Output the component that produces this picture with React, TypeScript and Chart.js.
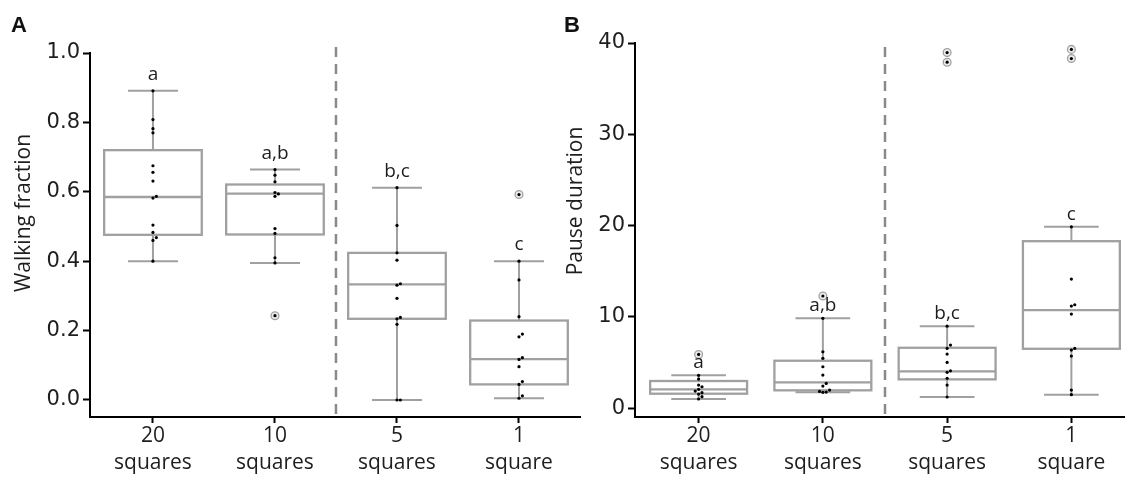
import React, { useEffect, useRef } from "react";
import { Chart, registerables } from "chart.js";

Chart.register(...registerables);

// ---------- shared categories ----------
const categories = ["20 squares", "10 squares", "5 squares", "1 square"];
const tickNumbers = ["20", "10", "5", "1"];
const tickUnits = ["squares", "squares", "squares", "square"];
const groupLetters = ["a", "a,b", "b,c", "c"];
const dividerAfterIndex = 1;

// ---------- Panel A: Walking fraction ----------
const walkTicks = [0, 0.2, 0.4, 0.6, 0.8, 1.0];
const walkWhiskerLow = [0.4, 0.395, 0.0, 0.005];
const walkQ1 = [0.476, 0.477, 0.234, 0.045];
const walkMedian = [0.585, 0.595, 0.333, 0.118];
const walkQ3 = [0.72, 0.621, 0.424, 0.229];
const walkWhiskerHigh = [0.891, 0.664, 0.612, 0.4];
const walkPoints20 = [0.891, 0.808, 0.782, 0.77, 0.675, 0.656, 0.631, 0.587, 0.582, 0.504, 0.483, 0.468, 0.46, 0.4];
const walkPoints10 = [0.664, 0.648, 0.629, 0.598, 0.594, 0.587, 0.494, 0.48, 0.41, 0.395];
const walkPoints5 = [0.612, 0.503, 0.424, 0.403, 0.335, 0.331, 0.293, 0.238, 0.234, 0.218, 0.0, 0.0];
const walkPoints1 = [0.4, 0.346, 0.24, 0.19, 0.182, 0.122, 0.117, 0.096, 0.053, 0.045, 0.012, 0.005];
const walkOutliers20: number[] = [];
const walkOutliers10 = [0.243];
const walkOutliers5: number[] = [];
const walkOutliers1 = [0.592];

// ---------- Panel B: Pause duration ----------
const pauseTicks = [0, 10, 20, 30, 40];
const pauseWhiskerLow = [1.02, 1.75, 1.24, 1.49];
const pauseQ1 = [1.6, 1.97, 3.17, 6.52];
const pauseMedian = [2.08, 2.84, 4.05, 10.75];
const pauseQ3 = [2.99, 5.21, 6.63, 18.3];
const pauseWhiskerHigh = [3.61, 9.85, 9.0, 19.87];
const pausePoints20 = [3.61, 3.2, 2.55, 2.36, 2.08, 1.89, 1.71, 1.56, 1.27, 1.02];
const pausePoints10 = [9.85, 6.19, 5.47, 4.55, 3.64, 2.73, 2.44, 2.0, 1.85, 1.78, 1.75];
const pausePoints5 = [9.0, 6.93, 6.56, 5.94, 5.03, 4.11, 3.94, 3.28, 2.55, 1.24];
const pausePoints1 = [19.87, 14.15, 11.34, 11.19, 10.32, 6.56, 6.38, 5.72, 2.0, 1.49];
const pauseOutliers20 = [5.9];
const pauseOutliers10 = [12.3];
const pauseOutliers5 = [38.95, 37.9];
const pauseOutliers1 = [39.3, 38.3];

// ---------- styling ----------
const HEIGHT = 481;
const X_AXIS_HEIGHT = 64;
const BOX_COLOR = "#a0a0a0";
const TEXT_COLOR = "#1e1e1e";
const DIVIDER_TOP = 47;

type PanelConfig = {
  left: number;
  width: number;
  padTop: number;
  padRight: number;
  yAxisWidth: number;
  yMin: number;
  yMax: number;
  xMin: number;
  xMax: number;
  yTicks: number[];
  yFormat: (v: number) => string;
  title: string;
  titleX: number;
  titleY: number;
  letterOffset: number;
  boxWidth: number;
  capWidth: number;
  wLow: number[];
  q1: number[];
  med: number[];
  q3: number[];
  wHigh: number[];
  points: number[][];
  outliers: number[][];
};

function swarmOffsets(vals: number[], pxPerY: number, pxPerX: number, gap = 3.4): number[] {
  const order = vals.map((_, i) => i).sort((a, b) => vals[a] - vals[b]);
  const placed: { x: number; y: number }[] = [];
  const offs = new Array(vals.length).fill(0);
  for (const i of order) {
    const yy = vals[i] * pxPerY;
    for (let k = 0; k < 30; k++) {
      const cand = k === 0 ? 0 : (k % 2 === 1 ? 1 : -1) * Math.ceil(k / 2) * gap;
      if (placed.every((p) => Math.hypot(p.x - cand, p.y - yy) >= gap)) {
        offs[i] = cand / pxPerX;
        placed.push({ x: cand, y: yy });
        break;
      }
    }
  }
  return offs;
}

function BoxPanel({ cfg }: { cfg: PanelConfig }) {
  const ref = useRef<HTMLCanvasElement>(null);

  useEffect(() => {
    const canvas = ref.current;
    if (!canvas) return;
    const p = cfg;
    const plotH = HEIGHT - X_AXIS_HEIGHT - p.padTop;
    const plotW = p.width - p.padRight - p.yAxisWidth;
    const pxPerY = plotH / (p.yMax - p.yMin);
    const pxPerX = plotW / (p.xMax - p.xMin);

    const dotData: { x: number; y: number }[] = [];
    p.points.forEach((vals, ci) => {
      const all = vals.concat(p.outliers[ci]);
      const offs = swarmOffsets(all, pxPerY, pxPerX);
      all.forEach((v, j) => dotData.push({ x: ci + offs[j], y: v }));
    });
    const outlierData: { x: number; y: number }[] = [];
    p.outliers.forEach((vals, ci) => vals.forEach((v) => outlierData.push({ x: ci, y: v })));

    const boxPlugin = {
      id: "boxplots",
      beforeDatasetsDraw(chart: any) {
        const { ctx, chartArea, scales } = chart;
        const x = scales.x;
        const y = scales.y;
        ctx.save();
        // dashed divider
        const dx = x.getPixelForValue(dividerAfterIndex + 0.5);
        ctx.strokeStyle = "#8a8a8a";
        ctx.lineWidth = 2.5;
        ctx.setLineDash([10, 7]);
        ctx.beginPath();
        ctx.moveTo(dx, DIVIDER_TOP);
        ctx.lineTo(dx, chartArea.bottom);
        ctx.stroke();
        ctx.setLineDash([]);

        ctx.strokeStyle = BOX_COLOR;
        for (let i = 0; i < p.q1.length; i++) {
          const cx = x.getPixelForValue(i);
          const bl = x.getPixelForValue(i - p.boxWidth / 2);
          const br = x.getPixelForValue(i + p.boxWidth / 2);
          const cl = x.getPixelForValue(i - p.capWidth / 2);
          const cr = x.getPixelForValue(i + p.capWidth / 2);
          const yq1 = y.getPixelForValue(p.q1[i]);
          const yq3 = y.getPixelForValue(p.q3[i]);
          const ymed = y.getPixelForValue(p.med[i]);
          const ylo = y.getPixelForValue(p.wLow[i]);
          const yhi = y.getPixelForValue(p.wHigh[i]);
          ctx.lineWidth = 2;
          ctx.beginPath();
          ctx.moveTo(cx, yq3);
          ctx.lineTo(cx, yhi);
          ctx.moveTo(cx, yq1);
          ctx.lineTo(cx, ylo);
          ctx.moveTo(cl, yhi);
          ctx.lineTo(cr, yhi);
          ctx.moveTo(cl, ylo);
          ctx.lineTo(cr, ylo);
          ctx.stroke();
          ctx.lineWidth = 2.3;
          ctx.strokeRect(bl, yq3, br - bl, yq1 - yq3);
          ctx.beginPath();
          ctx.moveTo(bl, ymed);
          ctx.lineTo(br, ymed);
          ctx.stroke();
        }
        ctx.restore();
      },
      afterDraw(chart: any) {
        const { ctx, scales } = chart;
        const x = scales.x;
        const y = scales.y;
        ctx.save();
        ctx.fillStyle = TEXT_COLOR;
        ctx.font = "19px 'Open Sans'";
        ctx.textAlign = "center";
        ctx.textBaseline = "alphabetic";
        for (let i = 0; i < groupLetters.length; i++) {
          const cx = x.getPixelForValue(i);
          const yhi = y.getPixelForValue(p.wHigh[i]);
          ctx.fillText(groupLetters[i], cx, yhi - p.letterOffset);
        }
        ctx.font = "21px 'Open Sans'";
        ctx.textBaseline = "middle";
        ctx.translate(p.titleX, p.titleY);
        ctx.rotate(-Math.PI / 2);
        ctx.fillText(p.title, 0, 0);
        ctx.restore();
      },
    };

    const chart = new Chart(canvas, {
      type: "scatter",
      data: {
        datasets: [
          {
            label: "values",
            data: dotData,
            pointRadius: 1.6,
            pointHoverRadius: 1.6,
            backgroundColor: "#000",
            borderColor: "#000",
            borderWidth: 0,
          },
          {
            label: "outliers",
            data: outlierData,
            pointRadius: 3.9,
            pointHoverRadius: 3.9,
            backgroundColor: "#ececec",
            borderColor: "#a2a2a2",
            borderWidth: 1.3,
          },
        ],
      },
      options: {
        responsive: false,
        animation: false,
        events: [],
        layout: { padding: { top: p.padTop, right: p.padRight, left: 0, bottom: 0 } },
        plugins: { legend: { display: false }, tooltip: { enabled: false } },
        scales: {
          x: {
            type: "linear",
            min: p.xMin,
            max: p.xMax,
            afterBuildTicks: (s: any) => {
              s.ticks = categories.map((_, i) => ({ value: i }));
            },
            afterFit: (s: any) => {
              s.height = X_AXIS_HEIGHT;
            },
            ticks: {
              autoSkip: false,
              maxRotation: 0,
              padding: 0,
              color: TEXT_COLOR,
              font: { family: "'Open Sans'", size: 21, lineHeight: 1.27 },
              callback: (v: any) => {
                const i = Math.round(Number(v));
                return [tickNumbers[i], tickUnits[i]];
              },
            },
            grid: {
              display: true,
              drawOnChartArea: false,
              drawTicks: true,
              tickLength: 6,
              tickWidth: 2,
              tickColor: "#000",
            },
            border: { display: true, color: "#000", width: 2 },
          },
          y: {
            type: "linear",
            min: p.yMin,
            max: p.yMax,
            afterBuildTicks: (s: any) => {
              s.ticks = p.yTicks.map((v) => ({ value: v }));
            },
            afterFit: (s: any) => {
              s.width = p.yAxisWidth;
            },
            ticks: {
              padding: 3,
              color: TEXT_COLOR,
              font: { family: "'DejaVu Sans'", size: 21 },
              callback: (v: any) => p.yFormat(Number(v)),
            },
            grid: {
              display: true,
              drawOnChartArea: false,
              drawTicks: true,
              tickLength: 7,
              tickWidth: 2,
              tickColor: "#000",
            },
            border: { display: true, color: "#000", width: 2 },
          },
        },
      },
      plugins: [boxPlugin],
    } as any);

    return () => chart.destroy();
  }, [cfg]);

  return (
    <canvas
      ref={ref}
      width={cfg.width}
      height={HEIGHT}
      style={{ position: "absolute", left: cfg.left, top: 0, width: cfg.width, height: HEIGHT }}
    />
  );
}

const panelA: PanelConfig = {
  left: 0,
  width: 600,
  padTop: 53,
  padRight: 20,
  yAxisWidth: 90,
  yMin: -0.049,
  yMax: 1.0,
  xMin: -0.516,
  xMax: 3.5,
  yTicks: walkTicks,
  yFormat: (v) => v.toFixed(1),
  title: "Walking fraction",
  titleX: 24,
  titleY: 213,
  letterOffset: 11,
  boxWidth: 0.8,
  capWidth: 0.41,
  wLow: walkWhiskerLow,
  q1: walkQ1,
  med: walkMedian,
  q3: walkQ3,
  wHigh: walkWhiskerHigh,
  points: [walkPoints20, walkPoints10, walkPoints5, walkPoints1],
  outliers: [walkOutliers20, walkOutliers10, walkOutliers5, walkOutliers1],
};

const panelB: PanelConfig = {
  left: 560,
  width: 570,
  padTop: 43,
  padRight: 0,
  yAxisWidth: 75,
  yMin: -0.95,
  yMax: 40,
  xMin: -0.512,
  xMax: 3.43,
  yTicks: pauseTicks,
  yFormat: (v) => String(Math.round(v)),
  title: "Pause duration",
  titleX: 16,
  titleY: 201,
  letterOffset: 7,
  boxWidth: 0.78,
  capWidth: 0.44,
  wLow: pauseWhiskerLow,
  q1: pauseQ1,
  med: pauseMedian,
  q3: pauseQ3,
  wHigh: pauseWhiskerHigh,
  points: [pausePoints20, pausePoints10, pausePoints5, pausePoints1],
  outliers: [pauseOutliers20, pauseOutliers10, pauseOutliers5, pauseOutliers1],
};

const letterStyle: React.CSSProperties = {
  position: "absolute",
  top: 14,
  fontFamily: "'Liberation Sans', Arial, sans-serif",
  fontWeight: "bold",
  fontSize: 22,
  lineHeight: "22px",
  color: "#111",
};

export default function App() {
  return (
    <div
      style={{
        position: "fixed",
        left: 0,
        top: 0,
        width: 1130,
        height: HEIGHT,
        background: "#fff",
        overflow: "hidden",
      }}
    >
      <BoxPanel cfg={panelA} />
      <BoxPanel cfg={panelB} />
      <div style={{ ...letterStyle, left: 11 }}>A</div>
      <div style={{ ...letterStyle, left: 564 }}>B</div>
    </div>
  );
}
